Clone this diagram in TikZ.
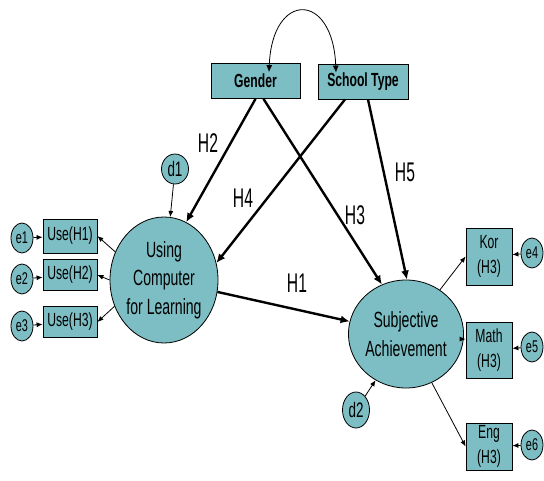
\documentclass[tikz,border=0pt]{standalone}
\usepackage{fontspec}
\setmainfont[FakeStretch=0.64]{Liberation Sans}
\newfontfamily\hfont[FakeStretch=0.58]{Liberation Sans}
\usetikzlibrary{arrows.meta,shapes.geometric}
\definecolor{semfill}{RGB}{124,190,196}
\tikzset{
  obs/.style={draw,fill=semfill,line width=0.8pt,inner sep=0pt,align=center,
    minimum width=54pt,minimum height=31pt,font=\fontsize{19}{25}\selectfont},
  latent/.style={draw,fill=semfill,ellipse,line width=0.8pt,inner sep=0pt,align=center,
    font=\fontsize{22}{28.5}\selectfont},
  err/.style={draw,fill=semfill,ellipse,line width=0.8pt,inner sep=0pt,
    minimum width=22pt,minimum height=30pt,font=\fontsize{17}{17}\selectfont},
  hyp/.style={font=\hfont\fontsize{27}{27}\selectfont},
  path/.style={line width=2.4pt,-{Latex[length=9pt,width=8pt]}},
  load/.style={line width=0.8pt,-{Latex[length=6pt,width=5pt]}}
}
\begin{document}
\begin{tikzpicture}[x=1pt,y=-1pt]
\useasboundingbox (0,0) rectangle (544,481);
\node[obs,minimum width=89pt,minimum height=35pt,font=\bfseries\fontsize{19}{19}\selectfont] (gender) at (255.5,81) {Gender};
\node[obs,minimum width=90pt,minimum height=35pt,font=\bfseries\fontsize{19}{19}\selectfont] (school) at (363,81.5) {School Type};
\node[latent,minimum width=108pt,minimum height=126pt] (using) at (164,280) {Using\\Computer\\for Learning};
\node[latent,minimum width=88pt,minimum height=108pt] (subj) at (406,334) {Subjective\\Achievement};
\node[err,minimum width=27pt,font=\fontsize{21}{21}\selectfont] (d1) at (175,169) {d1};
\node[err,minimum width=27pt,minimum height=36pt,font=\fontsize{21}{21}\selectfont] (d2) at (356,410) {d2};
\node[obs,minimum height=34pt] (use1) at (70,236) {Use(H1)};
\node[obs] (use2) at (70,275) {Use(H2)};
\node[obs] (use3) at (70,322) {Use(H3)};
\node[err] (e1) at (22,238) {e1};
\node[err] (e2) at (22,279) {e2};
\node[err] (e3) at (22,326) {e3};
\node[obs,minimum width=46pt,minimum height=57pt] (kor) at (489,256.5) {Kor\\(H3)};
\node[obs,minimum width=46pt,minimum height=56pt] (math) at (489,350) {Math\\(H3)};
\node[obs,minimum width=46pt,minimum height=47pt] (eng) at (489,446.5) {Eng\\(H3)};
\node[err] (e4) at (532,253) {e4};
\node[err] (e5) at (532,347) {e5};
\node[err] (e6) at (532,445) {e6};
\node[hyp] (h1) at (297,283) {H1};
\node[hyp] (h2) at (208,143) {H2};
\node[hyp] (h3) at (355,215) {H3};
\node[hyp] (h4) at (243,198) {H4};
\node[hyp] (h5) at (405,172) {H5};
\coordinate (cg) at ([xshift=13.5pt,yshift=-9pt]gender.north);
\coordinate (cs) at ([xshift=-27pt,yshift=-9pt]school.north);
\draw[line width=0.8pt,{Latex[length=7pt,width=6pt]}-{Latex[length=7pt,width=6pt]}]
  (cg) .. controls (272,-9) and (333,-9) .. (cs);
\draw[path] (gender.south) -- (using.69);
\draw[path] ([xshift=8pt]gender.south) -- (subj.116);
\draw[path] ([xshift=-18pt]school.south) -- (using.18);
\draw[path] ([xshift=5pt]school.south) -- (subj.89);
\draw[path] (using) -- (subj);
\draw[load] (d1) -- (using);
\draw[load] (d2) -- (subj);
\draw[load] (using.150) -- (use1.east);
\draw[load] (using.180) -- (use2.east);
\draw[load] (using.208) -- (use3.east);
\foreach \i in {1,2,3}{\draw[load] (e\i) -- (use\i);}
\draw[load] (subj) -- (kor.west);
\draw[load] (subj.-5) -- (subj.-5 -| math.west);
\draw[load] (subj) -- (eng.west);
\draw[load] (e4) -- (kor);
\draw[load] (e5) -- (math);
\draw[load] (e6) -- (eng);
\end{tikzpicture}
\end{document}
